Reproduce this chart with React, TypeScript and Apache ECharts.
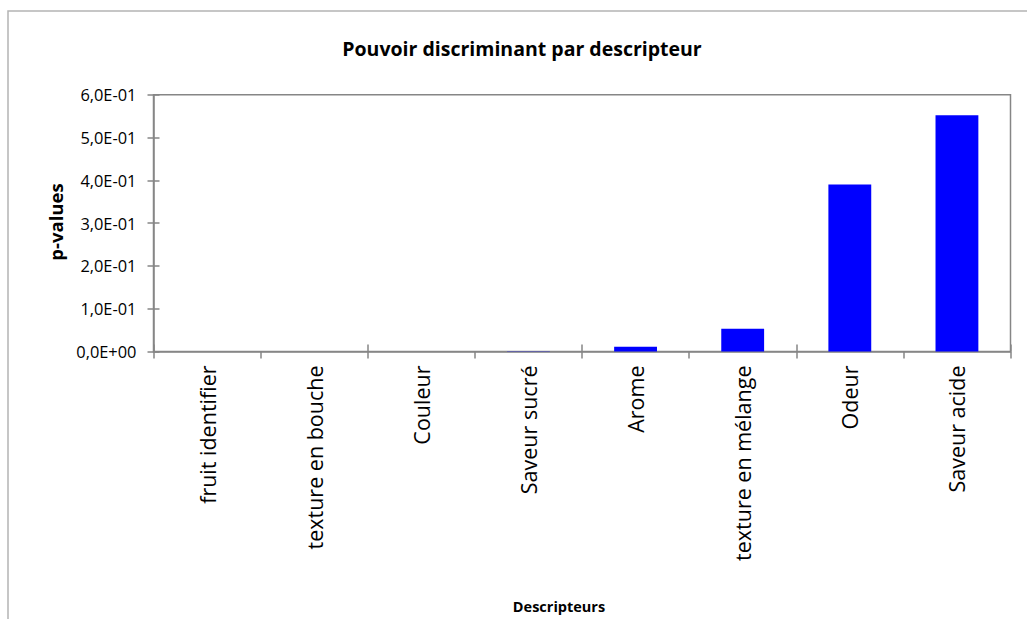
import React, { useEffect, useRef } from "react";
import * as echarts from "echarts";

const categories = [
  "fruit identifier",
  "texture en bouche",
  "Couleur",
  "Saveur sucré",
  "Arome",
  "texture en mélange",
  "Odeur",
  "Saveur acide",
];
const pValues = [0.0, 0.0, 0.0, 0.0008, 0.011, 0.053, 0.39, 0.552];
const yTicks = { min: 0, max: 0.6, interval: 0.1 };

const FONT = "'Open Sans', Lato, sans-serif";
const AXIS_GRAY = "#868686";

function sci(v: number): string {
  if (Math.abs(v) < 1e-12) return "0,0E+00";
  let e = Math.floor(Math.log10(Math.abs(v)) + 1e-9);
  let m = v / Math.pow(10, e);
  let ms = m.toFixed(1);
  if (ms === "10.0") {
    e += 1;
    ms = "1.0";
  }
  const sign = e < 0 ? "-" : "+";
  const ea = Math.abs(e);
  return ms.replace(".", ",") + "E" + sign + (ea < 10 ? "0" + ea : String(ea));
}

export default function App() {
  const ref = useRef<HTMLDivElement>(null);
  useEffect(() => {
    if (!ref.current) return;
    const chart = echarts.init(ref.current, null, { renderer: "svg" });
    chart.setOption({
      animation: false,
      backgroundColor: "#ffffff",
      textStyle: { fontFamily: FONT },
      grid: {
        left: 153.5,
        top: 94.7,
        right: 16.5,
        bottom: 267.5,
        show: true,
        borderColor: AXIS_GRAY,
        borderWidth: 1.5,
        backgroundColor: "transparent",
      },
      graphic: [
        {
          type: "rect",
          shape: { x: 8, y: 11, width: 1100, height: 700 },
          style: { fill: "none", stroke: "#b4b4b4", lineWidth: 1.5 },
          silent: true,
          z: -1,
        },
        {
          type: "text",
          x: 522,
          y: 48,
          style: {
            text: "Pouvoir discriminant par descripteur",
            fontFamily: FONT,
            fontWeight: "bold",
            fontSize: 19.5,
            fill: "#000",
            align: "center",
            verticalAlign: "middle",
          },
        },
        {
          type: "text",
          x: 55,
          y: 222,
          rotation: Math.PI / 2,
          style: {
            text: "p-values",
            fontFamily: FONT,
            fontWeight: "bold",
            fontSize: 18.5,
            fill: "#000",
            align: "center",
            verticalAlign: "middle",
          },
        },
        {
          type: "text",
          x: 559,
          y: 606,
          style: {
            text: "Descripteurs",
            fontFamily: FONT,
            fontWeight: "bold",
            fontSize: 14.5,
            fill: "#000",
            align: "center",
            verticalAlign: "middle",
          },
        },
      ],
      xAxis: [
        {
          type: "category",
          data: categories,
          position: "bottom",
          axisLine: { lineStyle: { color: AXIS_GRAY, width: 1.5 } },
          axisTick: { show: true, inside: false, length: 7, lineStyle: { color: AXIS_GRAY, width: 1.5 } },
          axisLabel: {
            rotate: 90,
            margin: 14,
            fontSize: 21.5,
            color: "#000",
            fontFamily: FONT,
            interval: 0,
          },
        },
        {
          type: "category",
          data: categories,
          position: "bottom",
          axisLine: { show: false },
          axisTick: { show: true, inside: true, length: 7, lineStyle: { color: AXIS_GRAY, width: 1.5 } },
          axisLabel: { show: false },
        },
      ],
      yAxis: [
        {
          type: "value",
          position: "left",
          min: yTicks.min,
          max: yTicks.max,
          interval: yTicks.interval,
          axisLine: { show: true, lineStyle: { color: AXIS_GRAY, width: 1.5 } },
          axisTick: { show: true, inside: false, length: 6, lineStyle: { color: AXIS_GRAY, width: 1.5 } },
          splitLine: { show: false },
          axisLabel: {
            formatter: (v: number) => sci(v),
            fontSize: 16.4,
            color: "#000",
            fontFamily: FONT,
            margin: 17,
          },
        },
        {
          type: "value",
          position: "left",
          min: yTicks.min,
          max: yTicks.max,
          interval: yTicks.interval,
          axisLine: { show: false },
          axisTick: { show: true, inside: true, length: 6, lineStyle: { color: AXIS_GRAY, width: 1.5 } },
          splitLine: { show: false },
          axisLabel: { show: false },
        },
      ],
      series: [
        {
          type: "bar",
          xAxisIndex: 0,
          yAxisIndex: 0,
          data: pValues,
          barCategoryGap: "60%",
          itemStyle: { color: "#0000ff" },
        },
      ],
    });
    return () => chart.dispose();
  }, []);
  return (
    <div
      ref={ref}
      style={{ position: "absolute", left: 0, top: 0, width: 1027, height: 619 }}
    />
  );
}
